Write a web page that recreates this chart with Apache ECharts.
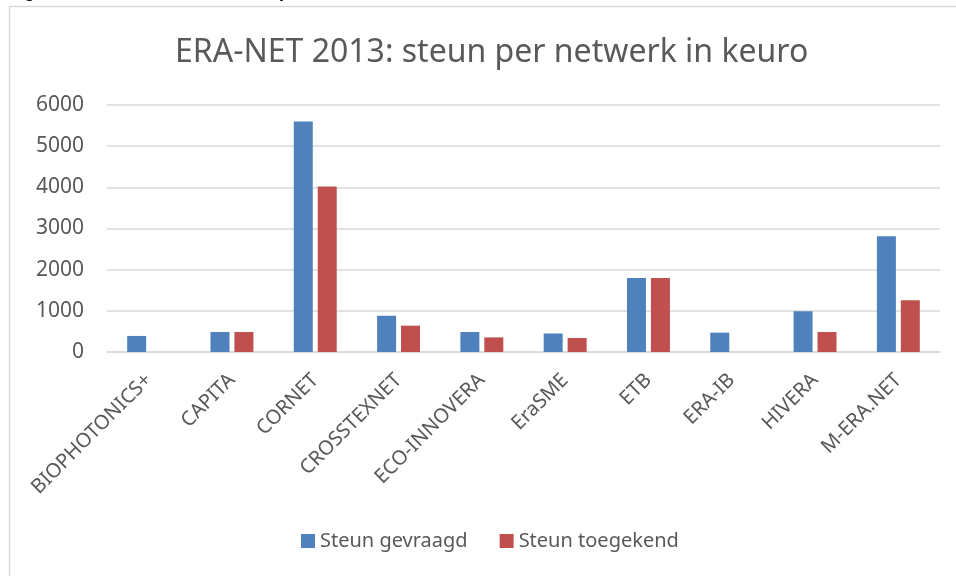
<!DOCTYPE html>
<html lang="nl">
<head>
<meta charset="UTF-8">
<title>ERA-NET 2013: steun per netwerk in keuro</title>
<style>
  html, body { margin: 0; padding: 0; background: #fff; }
  #chart { width: 956px; height: 576px; }
</style>
</head>
<body>
<div id="chart"></div>
<script src="https://cdn.jsdelivr.net/npm/echarts@6/dist/echarts.min.js"></script>
<script>
var netwerken = ['BIOPHOTONICS+', 'CAPITA', 'CORNET', 'CROSSTEXNET', 'ECO-INNOVERA',
                 'EraSME', 'ETB', 'ERA-IB', 'HIVERA', 'M-ERA.NET'];
var gevraagd  = [390, 485, 5600, 880, 485, 450, 1800, 470, 990, 2810];
var toegekend = [0, 485, 4020, 640, 355, 340, 1800, 0, 485, 1260];
var yTicks = [0, 1000, 2000, 3000, 4000, 5000, 6000];

var font = 'Noto Sans';
var grijs = '#595959';

var chart = echarts.init(document.getElementById('chart'));
chart.setOption({
  animation: false,
  title: {
    text: 'ERA-NET 2013: steun per netwerk in keuro',
    left: 170,
    top: 32,
    textStyle: { fontFamily: font, fontSize: 32, fontWeight: 'normal', color: grijs }
  },
  graphic: [
    {
      type: 'rect',
      shape: { x: 9.5, y: 6.5, width: 960, height: 600 },
      style: { fill: 'none', stroke: '#d9d9d9', lineWidth: 1.5 },
      silent: true
    },
    {
      type: 'text',
      left: 8, top: -17,
      style: { text: 'Figuur 3: ERA-NET 2013: steun per netwerk', font: 'bold 18px Liberation Sans', fill: '#000' },
      silent: true
    }
  ],
  legend: {
    bottom: 20,
    left: 296,
    itemWidth: 14,
    itemHeight: 14,
    itemGap: 32,
    itemTextGap: 7,
    icon: 'rect',
    textStyle: { fontFamily: font, fontSize: 20, color: grijs },
    data: ['Steun gevraagd', 'Steun toegekend']
  },
  grid: { left: 107, right: 16, top: 105, height: 247, containLabel: false },
  xAxis: {
    type: 'category',
    data: netwerken,
    axisLine: { lineStyle: { color: '#d9d9d9', width: 1.5 } },
    axisTick: { show: false },
    axisLabel: { rotate: 45, margin: 25, interval: 0, fontFamily: font, fontSize: 20, color: grijs }
  },
  yAxis: {
    type: 'value',
    min: yTicks[0],
    max: yTicks[yTicks.length - 1],
    interval: 1000,
    axisLine: { show: false },
    axisTick: { show: false },
    axisLabel: {
      margin: 23, fontFamily: font, fontSize: 21, color: grijs,
      formatter: function (v) { return String(v); }
    },
    splitLine: { lineStyle: { color: '#d9d9d9', width: 1.5 } }
  },
  series: [
    {
      name: 'Steun gevraagd',
      type: 'bar',
      data: gevraagd,
      barWidth: 19,
      barGap: '26%',
      itemStyle: { color: '#4F81BD' }
    },
    {
      name: 'Steun toegekend',
      type: 'bar',
      data: toegekend,
      barWidth: 19,
      itemStyle: { color: '#C0504D' }
    }
  ]
});
</script>
</body>
</html>
